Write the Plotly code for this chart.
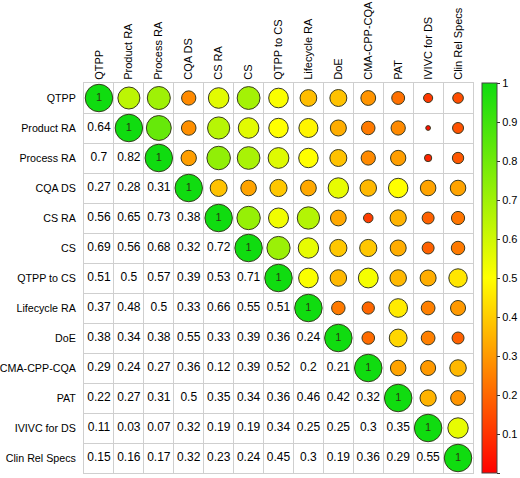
import math
import plotly.graph_objects as go

labels = ["QTPP", "Product RA", "Process RA", "CQA DS", "CS RA", "CS",
          "QTPP to CS", "Lifecycle RA", "DoE", "CMA-CPP-CQA", "PAT",
          "IVIVC for DS", "Clin Rel Specs"]

# lower triangle of the correlation matrix (row i, columns 0..i-1)
row_product_ra = [0.64]
row_process_ra = [0.7, 0.82]
row_cqa_ds = [0.27, 0.28, 0.31]
row_cs_ra = [0.56, 0.65, 0.73, 0.38]
row_cs = [0.69, 0.56, 0.68, 0.32, 0.72]
row_qtpp_to_cs = [0.51, 0.5, 0.57, 0.39, 0.53, 0.71]
row_lifecycle_ra = [0.37, 0.48, 0.5, 0.33, 0.66, 0.55, 0.51]
row_doe = [0.38, 0.34, 0.38, 0.55, 0.33, 0.39, 0.36, 0.24]
row_cma = [0.29, 0.24, 0.27, 0.36, 0.12, 0.39, 0.52, 0.2, 0.21]
row_pat = [0.22, 0.27, 0.31, 0.5, 0.35, 0.34, 0.36, 0.46, 0.42, 0.32]
row_ivivc = [0.11, 0.03, 0.07, 0.32, 0.19, 0.19, 0.34, 0.25, 0.25, 0.3, 0.35]
row_clin = [0.15, 0.16, 0.17, 0.32, 0.23, 0.24, 0.45, 0.3, 0.19, 0.36, 0.29, 0.55]

lower = [[], row_product_ra, row_process_ra, row_cqa_ds, row_cs_ra, row_cs,
         row_qtpp_to_cs, row_lifecycle_ra, row_doe, row_cma, row_pat,
         row_ivivc, row_clin]

colorbar_ticks = [0, 0.1, 0.2, 0.3, 0.4, 0.5, 0.6, 0.7, 0.8, 0.9, 1]
colorbar_ticktext = ["0", "0.1", "0.2", "0.3", "0.4", "0.5", "0.6", "0.7", "0.8", "0.9", "1"]

n = len(labels)
M = [[1.0 if i == j else None for j in range(n)] for i in range(n)]
for i in range(n):
    for j, v in enumerate(lower[i]):
        M[i][j] = v
        M[j][i] = v

colorscale = [[0.0, "#FF0000"], [0.5, "#FFFF00"], [1.0, "#10DC10"]]

# circles: upper triangle + diagonal
cx, cy, cv, csz, ctxt = [], [], [], [], []
for i in range(n):
    for j in range(i, n):
        v = M[i][j]
        cx.append(labels[j]); cy.append(labels[i]); cv.append(v)
        csz.append(27.5 * math.sqrt(abs(v)))
        ctxt.append("1" if i == j else "")

# numbers: lower triangle
tx, ty, tt = [], [], []
for i in range(n):
    for j, v in enumerate(lower[i]):
        tx.append(labels[j]); ty.append(labels[i]); tt.append(f"{v:g}")

font_family = "Liberation Sans, Arial, sans-serif"

fig = go.Figure()
fig.add_trace(go.Scatter(
    x=cx, y=cy, mode="markers+text", text=ctxt,
    textposition="middle center",
    textfont=dict(family=font_family, size=11, color="#2a3a10"),
    marker=dict(size=csz, color=cv, cmin=0, cmax=1, colorscale=colorscale,
                line=dict(color="#3a3a20", width=1), opacity=1,
                colorbar=dict(x=1.023, xanchor="left", xpad=0, ypad=0,
                              thickness=15, len=1.0, y=0.5, yanchor="middle",
                              tickvals=colorbar_ticks, ticktext=colorbar_ticktext,
                              ticks="outside", ticklen=3, tickcolor="#333",
                              outlinewidth=1, outlinecolor="#444",
                              tickfont=dict(family=font_family, size=11, color="#000"))),
    hoverinfo="skip", showlegend=False))
fig.add_trace(go.Scatter(
    x=tx, y=ty, mode="text", text=tt, textposition="middle center",
    textfont=dict(family=font_family, size=12, color="#000"),
    hoverinfo="skip", showlegend=False))

bounds = [k - 0.5 for k in range(n + 1)]
axis_common = dict(
    tickmode="array", tickvals=list(range(n)), ticktext=labels,
    showgrid=False, zeroline=False, ticks="", automargin=False,
    showline=True, linecolor="#cfcfcf", linewidth=1, mirror=True,
    minor=dict(tickmode="array", tickvals=bounds, showgrid=True,
               gridcolor="#cfcfcf", gridwidth=1, ticks=""),
)
fig.update_xaxes(type="category", categoryorder="array", categoryarray=labels,
                 side="top", tickangle=-90, range=[-0.5, n - 0.5],
                 tickfont=dict(family=font_family, size=11, color="#000"),
                 **axis_common)
fig.update_yaxes(type="category", categoryorder="array", categoryarray=labels,
                 range=[n - 0.5, -0.5], ticklabelstandoff=5,
                 tickfont=dict(family=font_family, size=10.7, color="#000"),
                 **axis_common)

fig.update_layout(width=520, height=478,
                  margin=dict(l=84, r=47, t=83, b=5, autoexpand=False),
                  paper_bgcolor="white", plot_bgcolor="white",
                  font=dict(family=font_family))
# remove the browser's default body margin so the figure fills the window
fig.write_html("out.html", config={"displayModeBar": False},
               post_script="document.body.style.margin='0';document.body.style.overflow='hidden';")
